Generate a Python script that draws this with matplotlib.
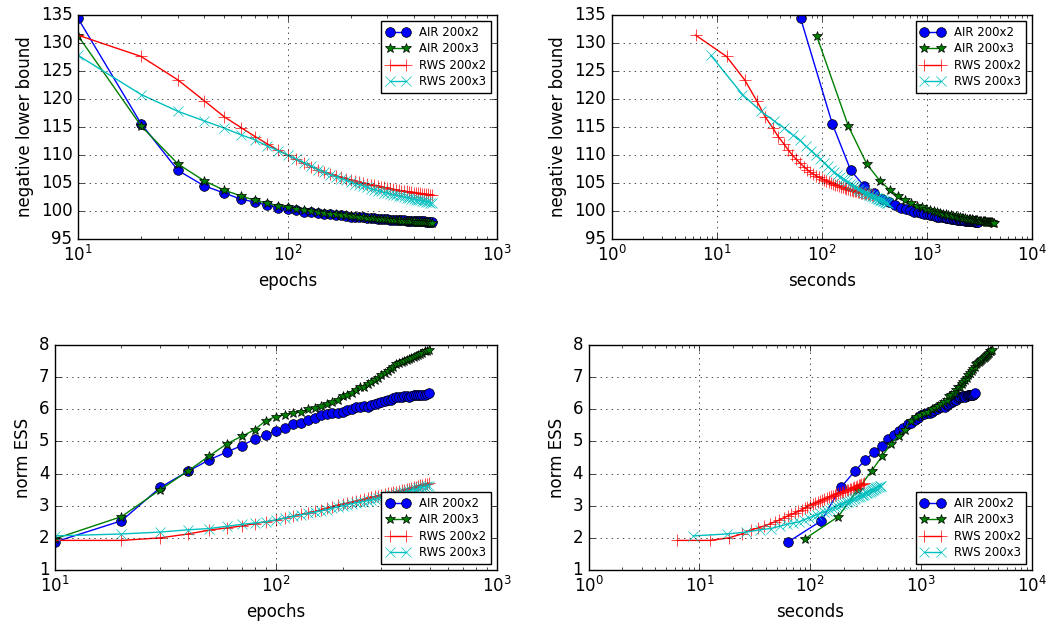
import numpy as np
import matplotlib
matplotlib.use('Agg')
import matplotlib.pyplot as plt

plt.style.use('classic')

# training epochs (logged every 10 epochs)
epochs = np.arange(10, 500, 10)

# wall clock seconds per epoch (roughly constant for these runs)
sec_per_epoch = {'AIR 200x2': 6.3, 'AIR 200x3': 8.95, 'RWS 200x3': 0.88}
secs_rws2 = [6.3, 12.4, 18.5, 24.0, 29.0, 34.0, 38.5, 43.5, 48.0, 52.5,
             57.5, 62.6, 67.7, 72.9, 78.1, 83.4, 88.8, 94.2, 99.7, 105.3,
             111.0, 116.7, 122.5, 128.4, 134.4, 140.5, 146.7, 153.0, 159.3, 165.7,
             172.2, 178.8, 185.5, 192.3, 199.2, 206.2, 213.3, 220.5, 227.8, 235.2,
             242.7, 250.3, 258.0, 265.8, 273.7, 281.7, 289.8, 298.0, 306.3]

# negative lower bound
nlb_air2 = [134.4, 115.6, 107.25, 104.5, 103.2, 102.1, 101.6, 101.0, 100.6, 100.3,
            100.1, 99.9, 99.75, 99.6, 99.5, 99.4, 99.3, 99.2, 99.1, 99.0,
            98.95, 98.9, 98.85, 98.8, 98.75, 98.7, 98.65, 98.6, 98.55, 98.5,
            98.47, 98.44, 98.41, 98.38, 98.35, 98.32, 98.3, 98.28, 98.25, 98.23,
            98.21, 98.19, 98.17, 98.15, 98.13, 98.11, 98.09, 98.07, 98.05]
nlb_air3 = [131.3, 115.2, 108.4, 105.4, 103.7, 102.7, 101.9, 101.4, 100.9, 100.7,
            100.4, 100.2, 100.0, 99.85, 99.7, 99.55, 99.45, 99.35, 99.25, 99.15,
            99.05, 98.97, 98.9, 98.83, 98.77, 98.71, 98.65, 98.6, 98.55, 98.5,
            98.46, 98.42, 98.38, 98.34, 98.3, 98.27, 98.24, 98.21, 98.18, 98.15,
            98.12, 98.09, 98.06, 98.03, 98.0, 97.97, 97.95, 97.92, 97.9]
nlb_rws2 = [131.4, 127.6, 123.4, 119.7, 116.8, 114.9, 113.3, 112.0, 110.9, 110.0,
            109.2, 108.5, 107.9, 107.4, 106.9, 106.6, 106.3, 106.0, 105.8, 105.6,
            105.4, 105.2, 105.0, 104.9, 104.7, 104.6, 104.5, 104.3, 104.2, 104.1,
            104.0, 103.9, 103.8, 103.7, 103.6, 103.6, 103.5, 103.4, 103.4, 103.3,
            103.3, 103.2, 103.2, 103.1, 103.1, 103.0, 103.0, 102.9, 102.9]
nlb_rws3 = [127.8, 120.8, 117.8, 116.1, 114.8, 113.6, 112.7, 111.6, 110.8, 110.0,
            109.3, 108.6, 108.0, 107.4, 106.9, 106.5, 106.1, 105.8, 105.5, 105.2,
            104.9, 104.7, 104.5, 104.2, 104.0, 103.8, 103.6, 103.5, 103.3, 103.2,
            103.0, 102.9, 102.8, 102.7, 102.6, 102.5, 102.4, 102.3, 102.2, 102.1,
            102.0, 101.95, 101.9, 101.8, 101.7, 101.65, 101.6, 101.5, 101.4]

# normalised effective sample size
ess_air2 = [1.87, 2.53, 3.57, 4.07, 4.43, 4.67, 4.87, 5.07, 5.2, 5.33,
            5.42, 5.55, 5.57, 5.68, 5.72, 5.83, 5.85, 5.87, 5.88, 5.92,
            5.98, 6.02, 6.07, 6.08, 6.1, 6.08, 6.13, 6.15, 6.2, 6.22,
            6.26, 6.28, 6.3, 6.34, 6.37, 6.38, 6.38, 6.4, 6.4, 6.38,
            6.4, 6.43, 6.45, 6.44, 6.44, 6.45, 6.43, 6.47, 6.5]
ess_air3 = [1.97, 2.66, 3.5, 4.08, 4.55, 4.93, 5.16, 5.36, 5.65, 5.77,
            5.83, 5.88, 5.92, 6.0, 6.05, 6.1, 6.17, 6.22, 6.3, 6.42,
            6.45, 6.52, 6.6, 6.68, 6.7, 6.78, 6.85, 6.9, 6.97, 7.05,
            7.12, 7.18, 7.25, 7.32, 7.4, 7.45, 7.48, 7.5, 7.53, 7.55,
            7.6, 7.63, 7.67, 7.7, 7.73, 7.76, 7.8, 7.82, 7.85]
ess_rws2 = [1.92, 1.92, 2.0, 2.12, 2.24, 2.31, 2.37, 2.44, 2.5, 2.55,
            2.62, 2.68, 2.73, 2.78, 2.82, 2.87, 2.92, 2.97, 3.01, 3.05,
            3.08, 3.11, 3.14, 3.17, 3.2, 3.23, 3.26, 3.29, 3.31, 3.34,
            3.36, 3.38, 3.4, 3.42, 3.44, 3.46, 3.48, 3.5, 3.52, 3.53,
            3.55, 3.57, 3.59, 3.61, 3.63, 3.65, 3.67, 3.69, 3.7]
ess_rws3 = [2.06, 2.12, 2.18, 2.25, 2.29, 2.36, 2.42, 2.46, 2.5, 2.56,
            2.62, 2.67, 2.72, 2.76, 2.8, 2.84, 2.88, 2.92, 2.96, 3.0,
            3.03, 3.06, 3.09, 3.11, 3.13, 3.16, 3.18, 3.2, 3.23, 3.26,
            3.28, 3.3, 3.32, 3.34, 3.36, 3.38, 3.4, 3.42, 3.44, 3.46,
            3.48, 3.5, 3.52, 3.54, 3.56, 3.57, 3.59, 3.6, 3.62]

names = ['AIR 200x2', 'AIR 200x3', 'RWS 200x2', 'RWS 200x3']
nlb = [nlb_air2, nlb_air3, nlb_rws2, nlb_rws3]
ess = [ess_air2, ess_air3, ess_rws2, ess_rws3]
styles = [dict(color='b', marker='o', markersize=7),
          dict(color='g', marker='*', markersize=7),
          dict(color='r', marker='+', markersize=8),
          dict(color='c', marker='x', markersize=7)]

fig = plt.figure(figsize=(10.57, 6.28), dpi=100)
ax1 = fig.add_axes([0.0738, 0.6194, 0.3964, 0.3567])
ax2 = fig.add_axes([0.5787, 0.6194, 0.3974, 0.3567])
ax3 = fig.add_axes([0.052, 0.0924, 0.4182, 0.3583])
ax4 = fig.add_axes([0.557, 0.0924, 0.4191, 0.3583])

for name, y1, y2, st in zip(names, nlb, ess, styles):
    if name in sec_per_epoch:
        secs = epochs * sec_per_epoch[name]
    else:
        secs = secs_rws2
    ax1.plot(epochs, y1, label=name, **st)
    ax2.plot(secs, y1, label=name, **st)
    ax3.plot(epochs, y2, label=name, **st)
    ax4.plot(secs, y2, label=name, **st)

for ax in [ax1, ax2]:
    ax.set_ylim(95, 135)
    ax.set_ylabel('negative lower bound')
    ax.legend(loc='upper right', fontsize=8.5, labelspacing=0.3)
for ax in [ax3, ax4]:
    ax.set_ylim(1, 8)
    ax.set_ylabel('norm ESS')
    ax.legend(loc='lower right', fontsize=8.5, labelspacing=0.3)
for ax in [ax1, ax3]:
    ax.set_xscale('log')
    ax.set_xlim(10, 1000)
    ax.set_xlabel('epochs')
for ax in [ax2, ax4]:
    ax.set_xscale('log')
    ax.set_xlim(1, 10000)
    ax.set_xlabel('seconds')
for ax in [ax1, ax2, ax3, ax4]:
    ax.grid(True)

fig.savefig('out.png', dpi=100)
